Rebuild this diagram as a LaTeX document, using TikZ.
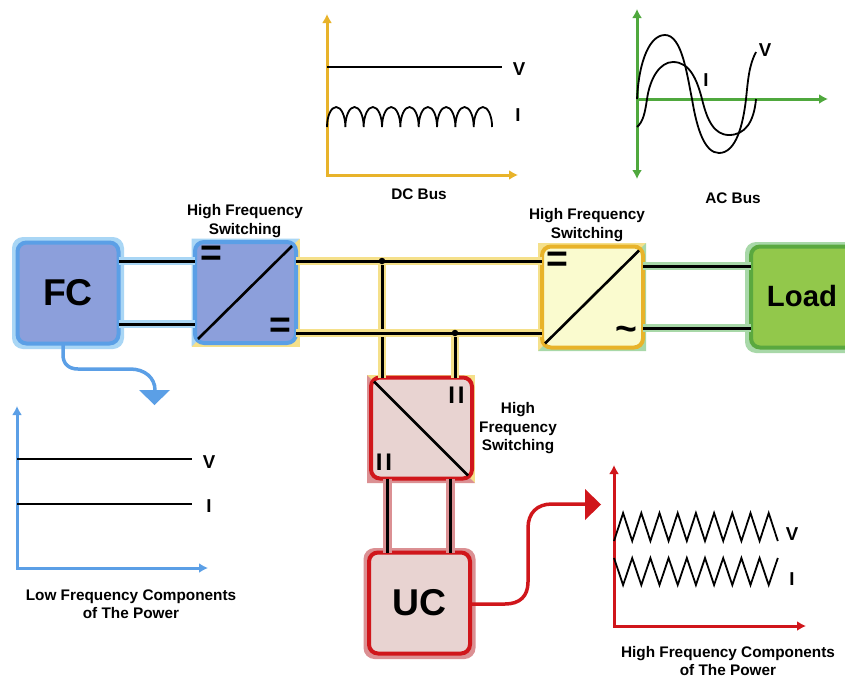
\documentclass[tikz,border=0pt]{standalone}
\usepackage{fontspec}
\setmainfont{Liberation Sans}
\usetikzlibrary{arrows.meta,calc}
\definecolor{fcfill}{HTML}{8C9FDB}
\definecolor{fcline}{HTML}{5B9FE6}
\definecolor{fchalo}{HTML}{A9D6F5}
\definecolor{busline}{HTML}{E8B32A}
\definecolor{bushalo}{HTML}{F5E08A}
\definecolor{acfill}{HTML}{FAFBCF}
\definecolor{ldfill}{HTML}{92C84B}
\definecolor{ldline}{HTML}{5AA83F}
\definecolor{ldhalo}{HTML}{A8D8A8}
\definecolor{ucfill}{HTML}{E8D3D1}
\definecolor{ucline}{HTML}{D0161B}
\definecolor{uchalo}{HTML}{DB9093}
\definecolor{axgreen}{HTML}{4FA83D}
\newcommand{\pxu}{0.75pt}
\newcommand{\lab}[1]{\fontsize{#1}{#1}\selectfont\bfseries}
\tikzset{
  x=0.75pt,y=-0.75pt,
  block/.style={rounded corners=9*\pxu,inner sep=0,outer sep=0,line width=4*\pxu,
     minimum width=101*\pxu,minimum height=101*\pxu},
  halobox/.style={rounded corners=11*\pxu,inner sep=0,outer sep=0,minimum width=112*\pxu,minimum height=112*\pxu},
  sq/.style={inner sep=0,outer sep=0,minimum width=108*\pxu,minimum height=108*\pxu},
  wire/.style={double=black,double distance=3*\pxu,line width=#1*\pxu},
  wire/.default=2.5,
  bold/.style={inner sep=0,font=\lab{11.5},align=center},
  axlabel/.style={inner sep=0,font=\lab{14}},
  sign/.style={inner sep=0,font=\lab{28}},
  junction/.style={circle,fill=black,inner sep=0,minimum size=6.5*\pxu},
  axis/.style={line width=3*\pxu,-{Latex[length=9*\pxu,width=10*\pxu]}},
  axisboth/.style={line width=3*\pxu,{Latex[length=9*\pxu,width=10*\pxu]}-{Latex[length=9*\pxu,width=10*\pxu]}},
  trace/.style={line width=1.8*\pxu,black},
  power/.style={line width=3.5*\pxu,rounded corners=0},
  diagonal/.style={line width=2.6*\pxu,black},
}
\begin{document}
\begin{tikzpicture}
\useasboundingbox (0,0) rectangle (845,678);
\fill[white] (0,0) rectangle (845,678);

% --- halos
\node[halobox,fill=fchalo] (fchal) at (68,293) {};
\node[sq,fill=bushalo] (c1hal) at (245.5,292.5) {};
\fill[fchalo] (c1hal.north west) -- (c1hal.north east) -- (c1hal.south west) -- cycle;
\node[sq,fill=bushalo] (c2hal) at (592,297) {};
\fill[ldhalo] (c2hal.south west) -- (c2hal.north east) -- (c2hal.south east) -- cycle;
\node[sq,fill=bushalo] (c3hal) at (421,429) {};
\fill[uchalo] (c3hal.north west) -- (c3hal.south east) -- (c3hal.south west) -- cycle;
\node[halobox,fill=uchalo,minimum height=111*\pxu] (uchal) at (419.5,603.5) {};
\fill[ldhalo,rounded corners=11*\pxu] (745,242) rectangle (870,353);

% --- blocks
\node[block,draw=fcline,fill=fcfill,font=\lab{28}] (fc) at (68,293) {FC};
\node[block,draw=fcline,fill=fcfill] (c1) at (245.5,292.5) {};
\node[block,draw=busline,fill=acfill] (c2) at (592.5,297) {};
\node[block,draw=ucline,fill=ucfill] (c3) at (421.5,428) {};
\node[block,draw=ucline,fill=ucfill,font=\lab{28}] (uc) at (419.5,603) {UC};
\node[block,draw=ldline,fill=ldfill,minimum width=120*\pxu] (ld) at (811,297) {};
\node[inner sep=0,font=\lab{22}] (ldtxt) at (802,296) {Load};

% --- rows used by the wires
\coordinate (ra) at (0,261);
\coordinate (rb) at (0,324);
\coordinate (rc) at (0,261);
\coordinate (rd) at (0,333);
\coordinate (re) at (0,266);
\coordinate (rf) at (0,328);
\coordinate (ca) at (387,0);
\coordinate (cb) at (450,0);
\node[junction] (j1) at (382,261) {};
\node[junction] (j2) at (455,333) {};

% --- wires
\draw[wire,draw=fchalo] (fc.east|-ra) -- (c1.west|-ra);
\draw[wire,draw=fchalo] (fc.east|-rb) -- (c1.west|-rb);
\draw[wire,draw=bushalo] (j1.center) -- (c3.north-|j1);
\draw[wire,draw=bushalo] (j2.center) -- (c3.north-|j2);
\draw[wire,draw=bushalo] (c1.east|-rc) -- (j1.center) -- (c2.west|-rc);
\draw[wire,draw=bushalo] (c1.east|-rd) -- (j2.center) -- (c2.west|-rd);
\draw[wire=2.5,draw=ldhalo] (c2.east|-re) -- (ld.west|-re);
\draw[wire=2.5,draw=ldhalo] (c2.east|-rf) -- (ld.west|-rf);
\draw[wire=3,draw=uchalo] (c3.south-|ca) -- (uc.north-|ca);
\draw[wire=3,draw=uchalo] (c3.south-|cb) -- (uc.north-|cb);
\node[junction] (j1b) at (j1) {};
\node[junction] (j2b) at (j2) {};

% --- converter diagonals and signs
\draw[diagonal] ($(c1.south west)+(3,-4)$) -- ($(c1.north east)+(-4,4)$);
\draw[diagonal] ($(c2.south west)+(3,-4)$) -- ($(c2.north east)+(-4,4)$);
\draw[diagonal] ($(c3.north west)+(3,4)$) -- ($(c3.south east)+(-4,-3)$);
\node[sign] (s1) at (211.5,256) {=};
\node[sign] (s2) at (280,328) {=};
\node[sign] (s3) at (557.5,262) {=};
\node[sign] (s4) at (626,334) {\char"007E};
\node[inner sep=0,font=\lab{18}] (s5) at (456.5,395) {I\kern2.2pt I};
\node[inner sep=0,font=\lab{18}] (s6) at (384,462) {I\kern2.2pt I};

% --- power arrows
\coordinate (pa) at (63,369);
\node[fill=fcline,inner sep=0,outer sep=0] (bt) at (155,390) {};
\draw[power,draw=fcline] (fc.south-|pa) -- (63,355) .. controls (63,364) and (69,369) .. (78,369) -- (130,369) .. controls (145,369) and (155,378) .. (bt.center);
\fill[fcline] (139,390) -- (170,390) -- (154.5,405) -- cycle;
\node[fill=ucline,inner sep=0,outer sep=0] (rt) at (586,504) {};
\draw[power,draw=ucline] (uc.east|-0,604) -- (505,604) .. controls (520,604) and (528,596) .. (528,582) -- (528,528) .. controls (528,513) and (537,504) .. (552,504) -- (rt.center);
\fill[ucline] (585,489) -- (601,504.5) -- (585,520) -- cycle;

% --- DC bus graph
\draw[axisboth,draw=busline] (327,14) -- (327,175) -- (518,175);
\draw[trace] (327,67) -- (502,67);
\draw[trace] (327,127)
  \foreach \i in {0,...,8} { arc[start angle=180,end angle=360,x radius=9.17,y radius=20] };
\node[axlabel] (dcv) at (519,69) {V};
\node[axlabel] (dci) at (518,115) {I};
\node[bold] (dct) at (419,194) {DC Bus};

% --- AC bus graph
\draw[axisboth,draw=axgreen] (637,9) -- (637,179);
\draw[axis,draw=axgreen] (637,99) -- (828,99);
\draw[trace] (637,99) .. controls (639,60) and (650,35) .. (665,35) .. controls (682,35) and (687,75) .. (692,99) .. controls (697,130) and (705,153) .. (719,153) .. controls (736,153) and (743,125) .. (746,99) .. controls (748,80) and (749,65) .. (756,52);
\draw[trace] (637,127) .. controls (643,122) and (645,113) .. (647,99) .. controls (650,78) and (660,62) .. (673,62) .. controls (690,62) and (697,80) .. (702,99) .. controls (707,120) and (714,135) .. (729,135) .. controls (745,135) and (754,122) .. (756,99);
\node[axlabel] (acv) at (765,50) {V};
\node[axlabel] (aci) at (706,80) {I};
\node[bold] (act) at (733,198) {AC Bus};

% --- Low frequency graph
\draw[axisboth,draw=fcline] (17,406) -- (17,568) -- (208,568);
\draw[trace] (17,459) -- (192,459);
\draw[trace] (17,504) -- (192,504);
\node[axlabel] (lv) at (209,462) {V};
\node[axlabel] (li) at (209,506) {I};
\node[bold] (lt) at (131,604) {Low Frequency Components\\[2.4pt]of The Power};

% --- High frequency graph
\draw[axisboth,draw=ucline] (614,465) -- (614,626) -- (806,626);
\draw[trace] (614,541)
  \foreach \i in {0,...,8} { -- ++(9.1,-28) -- ++(9.1,28) };
\draw[trace] (614,558)
  \foreach \i in {0,...,8} { -- ++(9.1,27) -- ++(9.1,-27) };
\node[axlabel] (hv) at (792,534) {V};
\node[axlabel] (hi) at (792,579) {I};
\node[bold] (ht) at (728,661) {High Frequency Components\\[2.4pt]of The Power};

% --- switching labels
\node[bold] (t1) at (245,221) {High Frequency\\[2.4pt]Switching};
\node[bold] (t2) at (587,225) {High Frequency\\[2.4pt]Switching};
\node[bold] (t3) at (518,428.5) {High\\[2.4pt]Frequency\\[2.4pt]Switching};
\end{tikzpicture}
\end{document}
